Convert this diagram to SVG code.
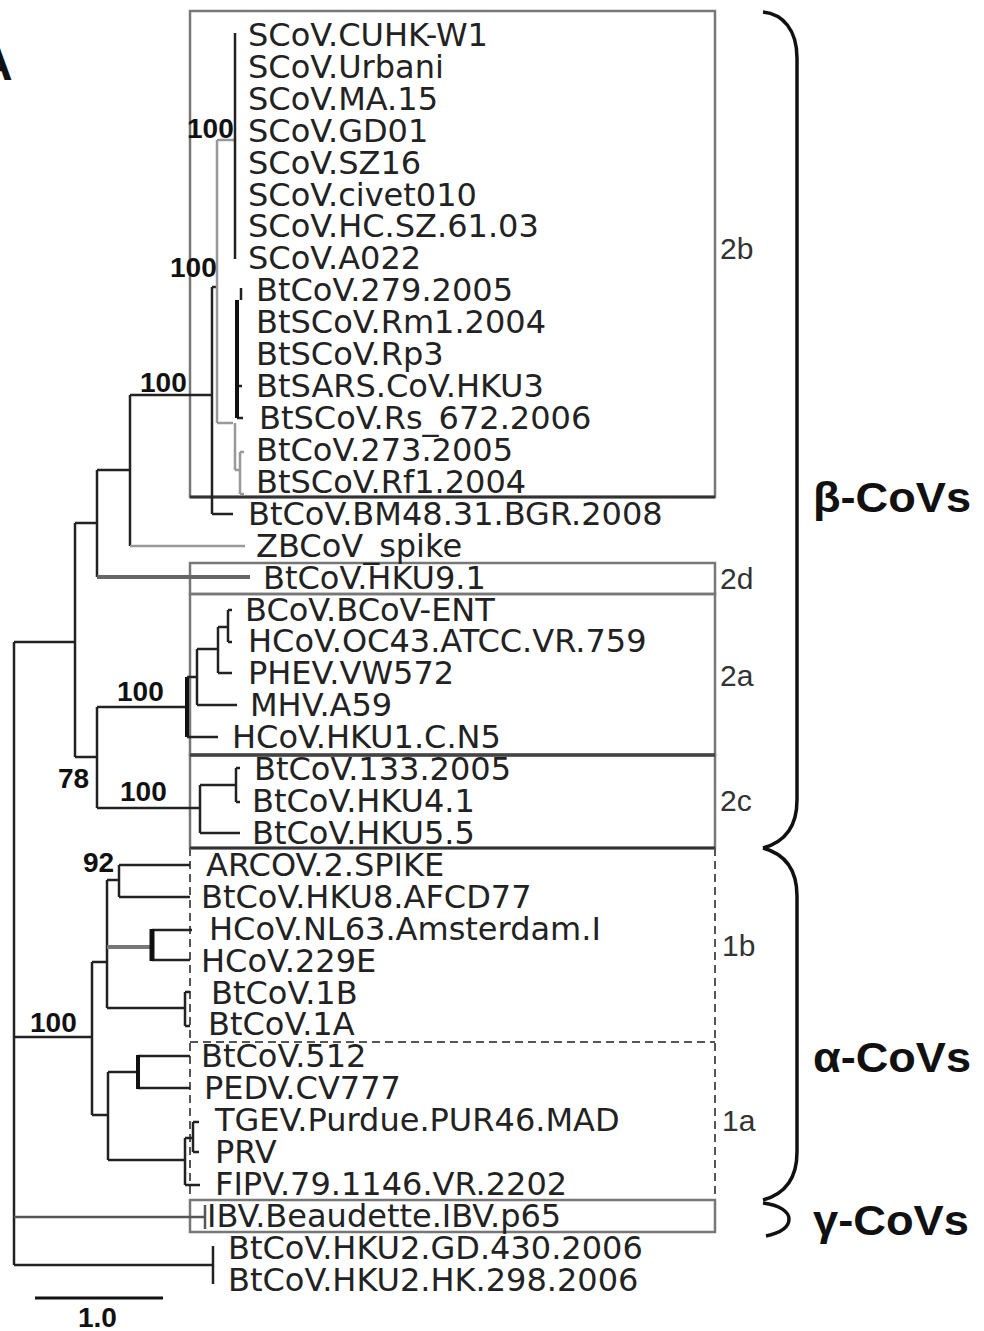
<svg xmlns="http://www.w3.org/2000/svg" width="984" height="1331" viewBox="0 0 984 1331">
<style>
.t{font-family:"DejaVu Sans",Verdana,sans-serif;font-size:32px;fill:#222}
.b{font-family:"Liberation Sans",Arial,sans-serif;font-weight:bold;font-size:28px;fill:#111}
.g{font-family:"Liberation Sans",Arial,sans-serif;font-size:30px;fill:#333}
.big{font-family:"Liberation Sans",Arial,sans-serif;font-weight:bold;font-size:42px;fill:#111}
.k{fill:none;stroke:#222;stroke-width:2.5}
.lg{fill:none;stroke:#999;stroke-width:2.5}
.tk{fill:none;stroke:#111;stroke-width:4}
.bx{fill:none;stroke:#777;stroke-width:2.5}
.dx{fill:none;stroke:#555;stroke-width:2;stroke-dasharray:8 5}
.br{fill:none;stroke:#111;stroke-width:3.5}
</style>
<rect width="984" height="1331" fill="#fff"/>
<text x="-22" y="80" class="big" style="font-size:48px">A</text>
<g id="boxes">
<rect class="bx" x="190" y="11" width="525" height="486"/>
<line x1="190" y1="497" x2="715" y2="497" stroke="#333" stroke-width="3"/>
<rect class="bx" x="190" y="563" width="525" height="31"/>
<rect class="bx" x="190" y="594" width="525" height="161"/>
<rect class="bx" x="190" y="755" width="525" height="93"/>
<line x1="190" y1="755" x2="715" y2="755" stroke="#444" stroke-width="3.5"/>
<line x1="190" y1="848" x2="715" y2="848" stroke="#333" stroke-width="3"/>
<path class="dx" d="M190 848V1200M715 848V1200M190 1042H715"/>
<rect class="bx" x="190" y="1200" width="525" height="32"/>
</g>
<g id="connectors">
<path class="k" d="M14 642V1265M14 642H75M14 1037H92M14 1265H213M213 1246V1284"/>
<path fill="none" stroke="#555" stroke-width="2.5" d="M14 1217H205M205 1205V1229"/>
<path class="k" d="M75 523V757M75 523H97M97 470V577M97 470H130M130 395V546M130 395H212M212 287V514M212 514H233M212 287H217"/>
<path fill="none" stroke="#666" stroke-width="4" d="M97 577H250"/>
<path class="lg" d="M130 546H245M217 140V423M217 140H235M217 423H233M235 423V470M235 470H240M240 452V494M240 452H244M240 494H244"/>
<path class="k" stroke-width="2" d="M235 33V259M241 288V300M237 386H242M237 418H243"/>
<path class="tk" d="M237 300V418"/>
<path class="k" d="M75 757H97M97 707V808M97 707H187M97 808H200"/>
<path class="tk" d="M187 677V737"/>
<path class="k" d="M187 677H197M187 737H218M197 649V705M197 705H237M197 649H218M218 627V673M218 673H232M218 627H228M228 610V642M228 610H232M228 642H232"/>
<path class="k" d="M200 785V833M200 833H240M200 785H236M236 768V802M236 768H240M236 802H240"/>
<path class="k" d="M92 962V1115M92 962H107M107 880V1008M107 880H119M119 865V897M119 865H190M119 897H190M152 930H192M152 960H190M107 1008H185M185 992V1026M185 992H190M185 1026H190"/>
<path fill="none" stroke="#777" stroke-width="4" d="M107 947H150"/>
<path fill="none" stroke="#111" stroke-width="5" d="M152 929V961"/>
<path class="k" d="M92 1115H108M108 1072V1160M108 1072H138M138 1056H190M138 1088H190M108 1160H185M185 1138V1185M185 1185H200M185 1138H193M193 1122V1152M193 1122H199M193 1152H199"/>
<path class="tk" d="M138 1055V1089"/>
<path fill="none" stroke="#111" stroke-width="3" d="M35 1298H163"/>
</g>
<g id="leaves">
<g id="n0"><text class="t" x="248" y="46">SCoV.CUHK-W1</text></g>
<g id="n1"><text class="t" x="248" y="78">SCoV.Urbani</text></g>
<g id="n2"><text class="t" x="248" y="110">SCoV.MA.15</text></g>
<g id="n3"><text class="t" x="248" y="142">SCoV.GD01</text></g>
<g id="n4"><text class="t" x="248" y="174">SCoV.SZ16</text></g>
<g id="n5"><text class="t" x="248" y="206">SCoV.civet010</text></g>
<g id="n6"><text class="t" x="248" y="237">SCoV.HC.SZ.61.03</text></g>
<g id="n7"><text class="t" x="248" y="269">SCoV.A022</text></g>
<g id="n8"><text class="t" x="256" y="301">BtCoV.279.2005</text></g>
<g id="n9"><text class="t" x="256" y="333">BtSCoV.Rm1.2004</text></g>
<g id="n10"><text class="t" x="256" y="365">BtSCoV.Rp3</text></g>
<g id="n11"><text class="t" x="256" y="397">BtSARS.CoV.HKU3</text></g>
<g id="n12"><text class="t" x="259" y="429">BtSCoV.Rs_672.2006</text></g>
<g id="n13"><text class="t" x="256" y="461">BtCoV.273.2005</text></g>
<g id="n14"><text class="t" x="256" y="493">BtSCoV.Rf1.2004</text></g>
<g id="n15"><text class="t" x="248" y="525">BtCoV.BM48.31.BGR.2008</text></g>
<g id="n16"><text class="t" x="256" y="557">ZBCoV_spike</text></g>
<g id="n17"><text class="t" x="263" y="589">BtCoV.HKU9.1</text></g>
<g id="n18"><text class="t" x="245" y="621">BCoV.BCoV-ENT</text></g>
<g id="n19"><text class="t" x="248" y="652">HCoV.OC43.ATCC.VR.759</text></g>
<g id="n20"><text class="t" x="248" y="684">PHEV.VW572</text></g>
<g id="n21"><text class="t" x="250" y="716">MHV.A59</text></g>
<g id="n22"><text class="t" x="232" y="748">HCoV.HKU1.C.N5</text></g>
<g id="n23"><text class="t" x="254" y="780">BtCoV.133.2005</text></g>
<g id="n24"><text class="t" x="252" y="812">BtCoV.HKU4.1</text></g>
<g id="n25"><text class="t" x="252" y="844">BtCoV.HKU5.5</text></g>
<g id="n26"><text class="t" x="206" y="876">ARCOV.2.SPIKE</text></g>
<g id="n27"><text class="t" x="201" y="908">BtCoV.HKU8.AFCD77</text></g>
<g id="n28"><text class="t" x="209" y="940">HCoV.NL63.Amsterdam.I</text></g>
<g id="n29"><text class="t" x="201" y="972">HCoV.229E</text></g>
<g id="n30"><text class="t" x="211" y="1004">BtCoV.1B</text></g>
<g id="n31"><text class="t" x="208" y="1035">BtCoV.1A</text></g>
<g id="n32"><text class="t" x="201" y="1067">BtCoV.512</text></g>
<g id="n33"><text class="t" x="204" y="1099">PEDV.CV777</text></g>
<g id="n34"><text class="t" x="215" y="1131">TGEV.Purdue.PUR46.MAD</text></g>
<g id="n35"><text class="t" x="215" y="1163">PRV</text></g>
<g id="n36"><text class="t" x="215" y="1195">FIPV.79.1146.VR.2202</text></g>
<g id="n37"><text class="t" x="207" y="1227">IBV.Beaudette.IBV.p65</text></g>
<g id="n38"><text class="t" x="228" y="1259">BtCoV.HKU2.GD.430.2006</text></g>
<g id="n39"><text class="t" x="228" y="1291">BtCoV.HKU2.HK.298.2006</text></g>
</g>
<g id="support">
<text class="b" x="187" y="138">100</text>
<text class="b" x="170" y="277">100</text>
<text class="b" x="140" y="392">100</text>
<text class="b" x="117" y="701">100</text>
<text class="b" x="120" y="801">100</text>
<text class="b" x="58" y="788">78</text>
<text class="b" x="83" y="872">92</text>
<text class="b" x="30" y="1032">100</text>
<text class="b" x="78" y="1327">1.0</text>
</g>
<g id="groups">
<text class="g" x="720" y="259">2b</text>
<text class="g" x="720" y="589">2d</text>
<text class="g" x="720" y="686">2a</text>
<text class="g" x="720" y="811">2c</text>
<text class="g" x="722" y="956">1b</text>
<text class="g" x="722" y="1131">1a</text>
</g>
<g id="braces">
<path class="br" d="M763 12C783 14 797 30 797 58L797 800C797 826 785 842 763 848"/>
<path class="br" d="M763 848C785 854 797 870 797 896L797 1152C797 1178 785 1194 763 1200"/>
<path class="br" d="M763 1203C780 1205 789 1212 789 1219C789 1227 780 1233 766 1236"/>
</g>
<g id="classes">
<text class="big" x="813" y="512" textLength="158" lengthAdjust="spacingAndGlyphs">β-CoVs</text>
<text class="big" x="813" y="1072" textLength="158" lengthAdjust="spacingAndGlyphs">α-CoVs</text>
<text class="big" x="813" y="1235" textLength="156" lengthAdjust="spacingAndGlyphs">γ-CoVs</text>
</g>
</svg>
